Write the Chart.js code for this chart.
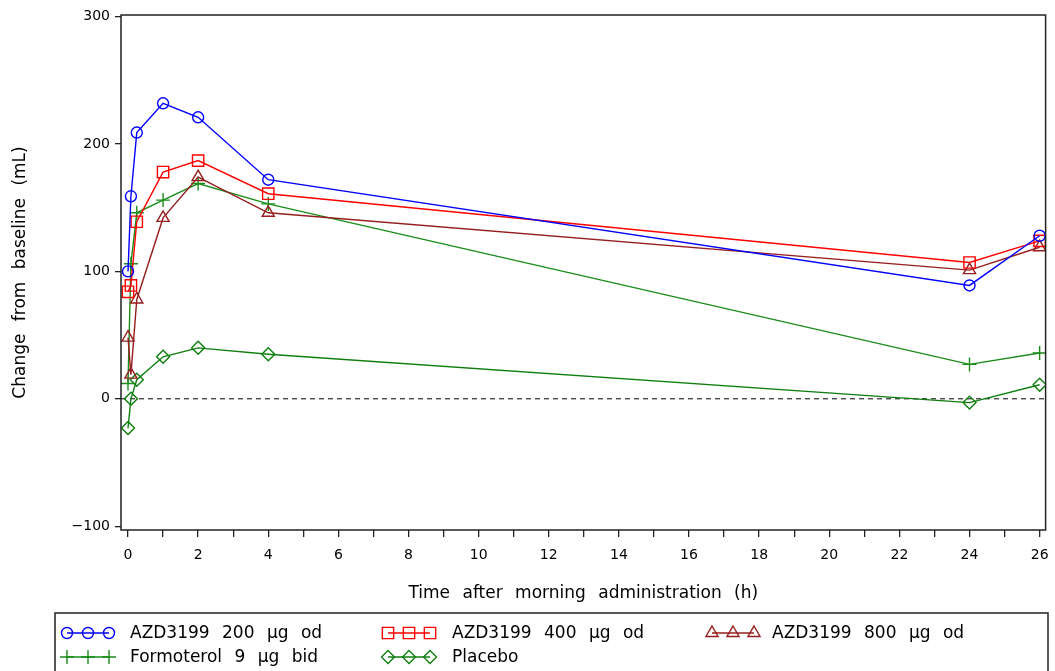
<!DOCTYPE html>
<html>
<head>
<meta charset="utf-8">
<script src="https://cdn.jsdelivr.net/npm/chart.js@4.4.1/dist/chart.umd.min.js"></script>
<style>
  html, body { margin: 0; padding: 0; background: #fff; }
  #wrap { width: 1055px; height: 671px; }
</style>
</head>
<body>
<div id="wrap"><canvas id="fev" width="1055" height="671"></canvas></div>
<script>
// time points (h) and mean change from baseline (mL)
const hours = [0, 0.083, 0.25, 1, 2, 4, 24, 26];
const azd200 = [100, 159, 209, 232, 221, 172, 89, 128];
const azd400 = [84, 89, 139, 178, 187, 161, 107, 124];
const azd800 = [48, 19, 78, 142, 174, 146, 101, 119];
const formoterol = [12, 106, 146, 156, 169, 153, 27, 36];
const placebo = [-23, 0, 15, 33, 40, 35, -3, 11];

const seriesLabels = ['AZD3199 200 \u03bcg od', 'AZD3199 400 \u03bcg od', 'AZD3199 800 \u03bcg od',
                      'Formoterol 9 \u03bcg bid', 'Placebo'];

const xTicks = [0, 1, 2, 3, 4, 5, 6, 7, 8, 9, 10, 11, 12, 13, 14, 15, 16, 17, 18, 19, 20, 21, 22, 23, 24, 25, 26];
const yTicks = [-100, 0, 100, 200, 300];

const FONT = 'DejaVu Sans';

function series(label, values, color, style, radius) {
  return {
    label: label,
    data: hours.map((h, i) => ({ x: h, y: values[i] })),
    borderColor: color,
    backgroundColor: 'rgba(0,0,0,0)',
    pointBorderColor: color,
    pointBackgroundColor: 'rgba(0,0,0,0)',
    pointStyle: style,
    pointRadius: radius,
    pointBorderWidth: 1.4,
    borderWidth: 1.4,
    tension: 0
  };
}

// frame round the plot and dashed zero line
const framePlugin = {
  id: 'frame',
  beforeDraw(chart) {
    chart.ctx.wordSpacing = '7px';
  },
  beforeDatasetsDraw(chart) {
    const { ctx, chartArea } = chart;
    const y0 = chart.scales.y.getPixelForValue(0);
    ctx.save();
    ctx.strokeStyle = '#000';
    ctx.lineWidth = 1;
    ctx.setLineDash([5, 4]);
    ctx.beginPath();
    ctx.moveTo(chartArea.left, y0);
    ctx.lineTo(chartArea.right, y0);
    ctx.stroke();
    ctx.restore();
  },
  afterDraw(chart) {
    const { ctx, chartArea } = chart;
    ctx.save();
    ctx.strokeStyle = '#222';
    ctx.lineWidth = 1.5;
    ctx.strokeRect(chartArea.left, chartArea.top, chartArea.right - chartArea.left, chartArea.bottom - chartArea.top);
    ctx.restore();
  }
};

// boxed legend under the axis
const legendPlugin = {
  id: 'boxLegend',
  afterDraw(chart) {
    const ctx = chart.ctx;
    const sampleX = [67, 388, 712];
    const textX = [130, 452, 772];
    ctx.save();
    ctx.strokeStyle = '#222';
    ctx.lineWidth = 1.5;
    ctx.strokeRect(55, 613, 993, 60);
    chart.data.datasets.forEach((ds, i) => {
      const col = i % 3;
      const y = 633 + Math.floor(i / 3) * 24;
      const x0 = sampleX[col];
      ctx.strokeStyle = ds.borderColor;
      ctx.fillStyle = 'rgba(0,0,0,0)';
      ctx.lineWidth = 1.4;
      ctx.beginPath();
      ctx.moveTo(x0, y);
      ctx.lineTo(x0 + 42, y);
      ctx.stroke();
      [0, 21, 42].forEach(dx => {
        Chart.helpers.drawPoint(ctx, { pointStyle: ds.pointStyle, radius: ds.pointRadius, borderWidth: 1.4, rotation: 0 }, x0 + dx, y);
      });
      ctx.fillStyle = '#000';
      ctx.font = '17px "' + FONT + '"';
      ctx.textBaseline = 'middle';
      ctx.textAlign = 'left';
      ctx.fillText(ds.label, textX[col], y + 1);
    });
    ctx.restore();
  }
};

new Chart(document.getElementById('fev').getContext('2d'), {
  type: 'line',
  data: {
    datasets: [
      series(seriesLabels[0], azd200, '#0000FF', 'circle', 5.5),
      series(seriesLabels[1], azd400, '#FF0000', 'rect', 8),
      series(seriesLabels[2], azd800, '#961E1E', 'triangle', 7),
      series(seriesLabels[3], formoterol, '#1A8C1A', 'cross', 7),
      series(seriesLabels[4], placebo, '#0E7F0E', 'rectRot', 6.5)
    ]
  },
  options: {
    responsive: false,
    animation: false,
    devicePixelRatio: 1,
    layout: { padding: { top: 15, right: 7, bottom: 67, left: 0 } },
    plugins: { legend: { display: false }, tooltip: { enabled: false } },
    scales: {
      x: {
        type: 'linear',
        min: -0.2,
        max: 26.17,
        afterBuildTicks: (axis) => { axis.ticks = xTicks.map(v => ({ value: v })); },
        afterFit: (axis) => { axis.height = 74; },
        border: { display: false },
        grid: { drawOnChartArea: false, drawTicks: true, tickLength: 7, color: '#222', lineWidth: 1.3 },
        ticks: {
          autoSkip: false,
          maxRotation: 0,
          padding: 0,
          color: '#000',
          font: { family: FONT, size: 14, lineHeight: 2.6 },
          callback: (v) => (v % 2 === 0 ? String(v) : '')
        },
        title: {
          display: true,
          text: 'Time after morning administration (h)',
          color: '#000',
          font: { family: FONT, size: 17 },
          padding: { top: 0, bottom: 0 }
        }
      },
      y: {
        type: 'linear',
        min: -103,
        max: 301.3,
        afterBuildTicks: (axis) => { axis.ticks = yTicks.map(v => ({ value: v })); },
        afterFit: (axis) => { axis.width = 121; },
        border: { display: false },
        grid: { drawOnChartArea: false, drawTicks: true, tickLength: 6, color: '#222', lineWidth: 1.3 },
        ticks: {
          padding: 5,
          color: '#000',
          font: { family: FONT, size: 14 },
          callback: (v) => (v < 0 ? '\u2212' + Math.abs(v) : String(v))
        },
        title: {
          display: true,
          text: 'Change from baseline (mL)',
          color: '#000',
          font: { family: FONT, size: 17 },
          padding: { top: 10, bottom: 0 }
        }
      }
    }
  },
  plugins: [framePlugin, legendPlugin]
});
</script>
</body>
</html>
